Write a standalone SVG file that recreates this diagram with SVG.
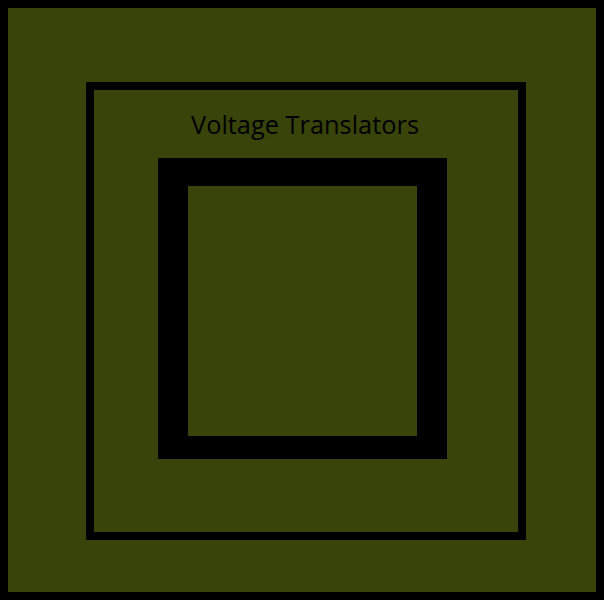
<svg xmlns="http://www.w3.org/2000/svg" width="604" height="600" viewBox="0 0 604 600">
<style>
.fill{fill:#38440a}
.blk{fill:#000}
.lbl{font-family:"Open Sans","DejaVu Sans",sans-serif;font-size:25px;fill:#000}
</style>
<rect class="blk" x="0" y="0" width="604" height="600"/>
<g id="outer">
<rect class="fill" x="8" y="8" width="588" height="584"/>
</g>
<g id="voltage-translators">
<rect x="90" y="86" width="432" height="450" fill="none" stroke="#000" stroke-width="8"/>
<text class="lbl" x="191" y="134" textLength="228" lengthAdjust="spacingAndGlyphs">Voltage Translators</text>
</g>
<g id="inner">
<rect class="blk" x="158" y="158" width="289" height="301"/>
<rect class="fill" x="188" y="186" width="229" height="250"/>
</g>
<g id="connectors"></g>
</svg>
